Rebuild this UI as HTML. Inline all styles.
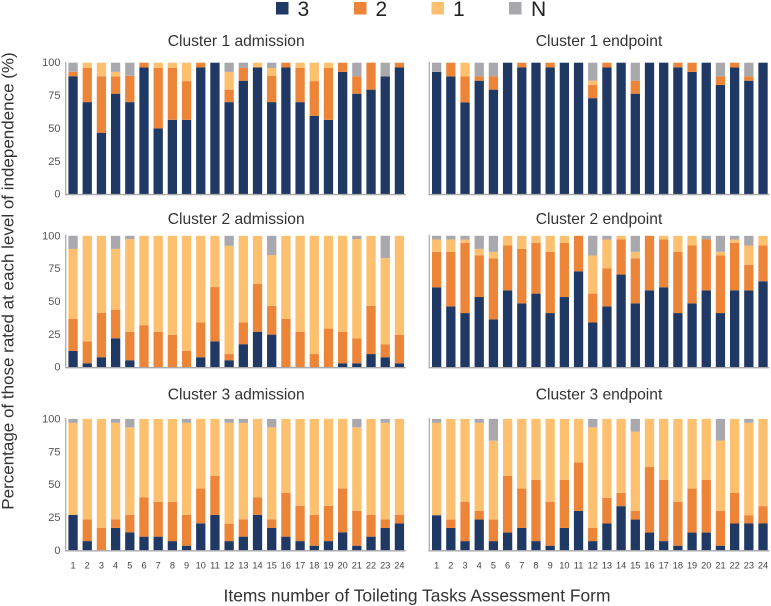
<!DOCTYPE html>
<html lang="en">
<head>
<meta charset="utf-8">
<title>Toileting Tasks Assessment by Cluster</title>
<style>
html,body{margin:0;padding:0;background:#fff;width:771px;height:606px;overflow:hidden}
svg{display:block;font-family:"Liberation Sans",Arial,sans-serif;filter:blur(0.3px)}
</style>
</head>
<body>
<svg id="chart" xmlns="http://www.w3.org/2000/svg" width="771" height="606" viewBox="0 0 771 606">
  <g>
    <rect x="276" y="2" width="12.5" height="12.5" fill="#1f3864"/>
    <text x="297.5" y="16" font-size="21" fill="#222">3</text>
    <rect x="354" y="2" width="12.5" height="12.5" fill="#ed8539"/>
    <text x="375.5" y="16" font-size="21" fill="#222">2</text>
    <rect x="431.5" y="2" width="12.5" height="12.5" fill="#fdc06f"/>
    <text x="453" y="16" font-size="21" fill="#222">1</text>
    <rect x="509" y="2" width="12.5" height="12.5" fill="#a9a9ad"/>
    <text x="531" y="16" font-size="21" fill="#222">N</text>
  </g>
  <text x="236.2" y="46" font-size="15.6" fill="#333" text-anchor="middle">Cluster 1 admission</text>
  <text x="599" y="46" font-size="15.6" fill="#333" text-anchor="middle">Cluster 1 endpoint</text>
  <text x="236.2" y="224" font-size="15.6" fill="#333" text-anchor="middle">Cluster 2 admission</text>
  <text x="599" y="224" font-size="15.6" fill="#333" text-anchor="middle">Cluster 2 endpoint</text>
  <text x="236.2" y="399.5" font-size="15.6" fill="#333" text-anchor="middle">Cluster 3 admission</text>
  <text x="599" y="399.5" font-size="15.6" fill="#333" text-anchor="middle">Cluster 3 endpoint</text>
  <text transform="translate(13.5,281) rotate(-90)" font-size="17" fill="#333" text-anchor="middle">Percentage of those rated at each level of independence (%)</text>
  <text x="417" y="601.5" font-size="17.4" fill="#333" text-anchor="middle">Items number of Toileting Tasks Assessment Form</text>
  <g id="panels"></g>
</svg>
<script>
const categories = [1,2,3,4,5,6,7,8,9,10,11,12,13,14,15,16,17,18,19,20,21,22,23,24];
const yTicks = [0,25,50,75,100];

const c1Adm3 = [89.7,70,46.7,76.4,70,96.4,50,56.5,56.5,96.4,100,70,86.3,96.4,70,96.4,70,59.6,56.5,93,76.4,79.5,89.6,96.4];
const c1Adm2 = [3.4,26,43,13.2,20,3.6,46,39.5,29.5,3.6,0,9.5,9.7,0,20,3.6,26,26.4,39.5,7,13.2,20.5,0,3.6];
const c1Adm1 = [0,4,10.3,3.4,0,0,4,4,14,0,0,13.5,0,3.6,6,0,4,14,4,0,0,0,0,0];
const c1AdmN = [6.9,0,0,7,10,0,0,0,0,0,0,7,4,0,4,0,0,0,0,0,10.4,0,10.4,0];

const c1End3 = [93,89.6,69.8,86.3,79.5,100,96.4,100,96.4,100,100,73,96.4,100,76.4,100,100,96.4,93,100,83,96.4,86.3,100];
const c1End2 = [0,10.4,19.8,3.3,10.1,0,3.6,0,3.6,0,0,10,3.6,0,9.9,0,0,3.6,7,0,6.6,3.6,3.3,0];
const c1End1 = [0,0,10.4,0,0,0,0,0,0,0,0,3.3,0,0,0,0,0,0,0,0,0,0,0,0];
const c1EndN = [7,0,0,10.4,10.4,0,0,0,0,0,0,13.7,0,0,13.7,0,0,0,0,0,10.4,0,10.4,0];

const c2Adm3 = [12.4,3,7.6,22,5.3,0,0,0,0,7.6,19.7,5.3,17.5,27,24.8,0,0,0,0,3,3,10,7.6,3];
const c2Adm2 = [24.3,16.7,33.9,21.8,21.7,32,27,24.6,12.4,26.4,41.3,4.7,16.5,36.3,21.8,36.7,27,10,29.4,24,19,36.6,9.9,21.6];
const c2Adm1 = [53.3,80.3,58.5,46.2,70.5,68,73,75.4,87.6,66,39,82.4,66,36.7,38.7,63.3,73,90,70.6,73,75.5,53.4,65.5,75.4];
const c2AdmN = [10,0,0,10,2.5,0,0,0,0,0,0,7.6,0,0,14.7,0,0,0,0,0,2.5,0,17,0];

const c2End3 = [60.8,46.3,41.2,53.4,36.4,58.5,48.6,56,41.2,53.4,73,34,46.3,70.5,48.6,58.5,60.8,41.2,48.6,58.5,41.2,58.5,58.5,65.4];
const c2End2 = [27,41.5,53.4,31.8,46.3,34.1,41.4,38.6,46.6,41.2,27,22,29,26.7,34.1,41.5,36.4,46.6,44,38.7,44,36.1,19.5,27.2];
const c2End1 = [9.4,9.4,2.6,4.8,5.1,7.4,10,5.4,12.2,5.4,0,29,21.9,2.8,5.1,0,2.8,12.2,7.4,0,2.6,2.6,14.6,7.4];
const c2EndN = [2.8,2.8,2.8,10,12.2,0,0,0,0,0,0,15,2.8,0,12.2,0,0,0,0,2.8,12.2,2.8,7.4,0];

const c3Adm3 = [27,7,0,17,13.7,10.4,10.4,7,3.5,20.5,27,7,10.4,27,17,10.4,7,3.5,7,13.7,3.5,10.4,17,20.5];
const c3Adm2 = [0,16.6,17,6.6,13.3,30,26.4,29.8,23.5,26.5,29.8,13.3,13.2,13.4,6.6,33.2,26.8,23.5,26.8,33.3,26.5,16.6,6.6,6.5];
const c3Adm1 = [70,76.4,83,73.4,66.6,59.6,63.2,63.2,70,53,43.2,76.7,73.4,59.6,70,56.4,66.2,73,66.2,53,63.6,73,73.4,73];
const c3AdmN = [3,0,0,3,6.4,0,0,0,3,0,0,3,3,0,6.4,0,0,0,0,0,6.4,0,3,0];

const c3End3 = [26.7,17,7,23.4,7,13.5,17,7,3.5,17,30,7,20.4,33.6,23.4,13.5,7,3.5,13.5,13.5,3.5,20.4,20.4,20.4];
const c3End2 = [0,6.4,30,6.6,16.4,43.2,30,46.7,33.5,36.7,37,10,19.6,10.2,6.6,50.1,46.7,33.5,33.5,40.2,26.5,23.4,6.3,13.2];
const c3End1 = [70.3,76.6,63,67,60,43.3,53,46.3,63,46.3,33,76.6,60,56.2,60.3,36.4,46.3,63,53,46.3,53.5,56.2,70.3,66.4];
const c3EndN = [3,0,0,3,16.6,0,0,0,0,0,0,6.4,0,0,9.7,0,0,0,0,0,16.5,0,3,0];

const seriesNames = ['3','2','1','N'];
const seriesColors = ['#1f3864','#ed8539','#fdc06f','#a9a9ad'];

const panelList = [
  {id:'cluster-1-admission', left:65.7, top:62.7, series:[c1Adm3,c1Adm2,c1Adm1,c1AdmN], yLabels:true, xLabels:false},
  {id:'cluster-1-endpoint', left:429.3, top:62.7, series:[c1End3,c1End2,c1End1,c1EndN], yLabels:false, xLabels:false},
  {id:'cluster-2-admission', left:65.7, top:235.8, series:[c2Adm3,c2Adm2,c2Adm1,c2AdmN], yLabels:true, xLabels:false},
  {id:'cluster-2-endpoint', left:429.3, top:235.8, series:[c2End3,c2End2,c2End1,c2EndN], yLabels:false, xLabels:false},
  {id:'cluster-3-admission', left:65.7, top:418.9, series:[c3Adm3,c3Adm2,c3Adm1,c3AdmN], yLabels:true, xLabels:true},
  {id:'cluster-3-endpoint', left:429.3, top:418.9, series:[c3End3,c3End2,c3End1,c3EndN], yLabels:false, xLabels:true}
];

const NS = 'http://www.w3.org/2000/svg';
const plotH = 131.4, plotW = 340, barStep = 14.19, barW = 9.3, barOffset = 2.7;
const root = document.getElementById('panels');

function make(tag, attrs, parent) {
  const el = document.createElementNS(NS, tag);
  for (const k in attrs) el.setAttribute(k, attrs[k]);
  parent.appendChild(el);
  return el;
}
function xScale(p, index) { return p.left + barOffset + index * barStep; }
function yScale(p, value) { return p.top + plotH - value / 100 * plotH; }

panelList.forEach(function (p) {
  const g = make('g', {}, root);
  
  

  categories.forEach(function (cat, i) {
    let cum = 0;
    p.series.forEach(function (values, s) {
      const v = values[i];
      if (v <= 0) return;
      const yTop = yScale(p, cum + v);
      const yBot = yScale(p, cum);
      const bar = make('rect', {x: xScale(p, i), y: yTop, width: barW, height: yBot - yTop, fill: seriesColors[s]}, g);
      
      
      cum += v;
    });
  });

  const yAxis = make('line', {x1: p.left, x2: p.left, y1: p.top - 1, y2: p.top + plotH + 1, stroke: '#b4b4b8', 'stroke-width': 1.4}, g);
  
  
  const xAxis = make('line', {x1: p.left - 0.7, x2: p.left + plotW, y1: p.top + plotH + 0.5, y2: p.top + plotH + 0.5, stroke: '#a8a8ac', 'stroke-width': 1.4}, g);
  
  

  if (p.yLabels) {
    yTicks.forEach(function (t) {
      const lab = make('text', {x: p.left - 5.2, y: yScale(p, t) + 3.5, 'font-size': 11, fill: '#555', 'text-anchor': 'end'}, g);
      lab.textContent = String(t);
      
      
    });
  }
  if (p.xLabels) {
    categories.forEach(function (cat, i) {
      const lab = make('text', {x: xScale(p, i) + barW / 2, y: p.top + plotH + 18, 'font-size': 9.2, fill: '#444', 'text-anchor': 'middle'}, g);
      lab.textContent = String(cat);
      
      
    });
  }
});
</script>
</body>
</html>
